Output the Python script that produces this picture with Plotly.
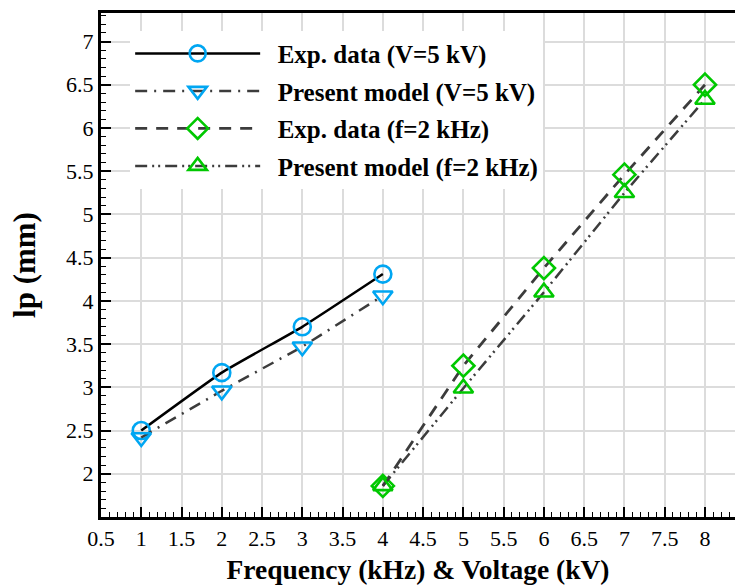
import plotly.graph_objects as go

# Frequency sweep at V = 5 kV
freq_khz = [1, 2, 3, 4]
lp_exp_v5 = [2.50, 3.17, 3.70, 4.31]
lp_model_v5 = [2.42, 2.96, 3.47, 4.06]

# Voltage sweep at f = 2 kHz
volt_kv = [4, 5, 6, 7, 8]
lp_exp_f2 = [1.86, 3.25, 4.38, 5.46, 6.50]
lp_model_f2 = [1.86, 2.99, 4.10, 5.25, 6.33]

series_names = [
    "Exp. data (V=5 kV)",
    "Present model (V=5 kV)",
    "Exp. data (f=2 kHz)",
    "Present model (f=2 kHz)",
]

x_ticks = [0.5 * i for i in range(1, 17)]
y_ticks = [2 + 0.5 * i for i in range(0, 11)]

BLUE = "#00a6f2"
GREEN = "#00c800"
GRAY = "#3c3c3c"
SERIF = "Liberation Serif"


def legend_label(text):
    # small gap between the legend sample line and the bold label
    return "\u2002<b>" + text + "</b>"


fig = go.Figure()

fig.add_trace(go.Scatter(
    x=freq_khz, y=lp_exp_v5, name=legend_label(series_names[0]), mode="lines+markers",
    line=dict(color="black", width=2.5, shape="spline", smoothing=0.4),
    marker=dict(symbol="circle-open", size=17, color=BLUE, line=dict(width=2.6)),
    legendgroup="a",
))
fig.add_trace(go.Scatter(
    x=freq_khz, y=lp_model_v5, name=legend_label(series_names[1]), mode="lines+markers",
    line=dict(color=GRAY, width=2.5, dash="12px,7px,2px,7px"),
    marker=dict(symbol="triangle-down-open", size=17, color=BLUE, line=dict(width=2.6)),
    legendgroup="b",
))
fig.add_trace(go.Scatter(
    x=volt_kv, y=lp_exp_f2, name=legend_label(series_names[2]), mode="lines+markers",
    line=dict(color=GRAY, width=2.8, dash="12px,9px"),
    marker=dict(symbol="diamond-open", size=17, color=GREEN, line=dict(width=2.6)),
    legendgroup="c",
))
fig.add_trace(go.Scatter(
    x=volt_kv, y=lp_model_f2, name=legend_label(series_names[3]), mode="lines+markers",
    line=dict(color=GRAY, width=2.5, dash="12px,5px,2px,4px,2px,5px"),
    marker=dict(symbol="triangle-up-open", size=17, color=GREEN, line=dict(width=2.6)),
    legendgroup="d",
))

axis_common = dict(
    showgrid=True, gridcolor="#dcdcdc", gridwidth=1.5,
    showline=True, linecolor="black", linewidth=3,
    ticks="inside", ticklen=10, tickwidth=2, tickcolor="black",
    tickfont=dict(family=SERIF, size=22, color="black"),
    zeroline=False,
    minor=dict(dtick=0.1, ticks="inside", ticklen=5, tickwidth=1.2,
               tickcolor="black", showgrid=False),
)

fig.update_xaxes(
    **axis_common,
    range=[0.5, 8.373], tickvals=x_ticks,
    ticktext=[f"{v:g}" for v in x_ticks],
    mirror=True,
    title=dict(text="<b>Frequency (kHz) & Voltage (kV)</b>",
               font=dict(family=SERIF, size=27.5, color="black"), standoff=13),
)
fig.update_yaxes(
    **axis_common,
    range=[1.5, 7.33], tickvals=y_ticks,
    ticktext=[f"{v:g}" for v in y_ticks],
    mirror=False,
    title=dict(text="<b>lp (mm)</b>",
               font=dict(family=SERIF, size=31, color="black"), standoff=22),
)

fig.update_layout(
    width=735, height=585,
    margin=dict(l=101, r=0, t=13, b=68),
    paper_bgcolor="white", plot_bgcolor="white",
    legend=dict(
        x=0.046, y=0.965, xanchor="left", yanchor="top",
        bgcolor="white", borderwidth=0,
        font=dict(family=SERIF, size=25, color="black"),
        itemwidth=125, traceorder="grouped", tracegroupgap=2,
    ),
    showlegend=True,
)

fig.write_html("out.html")
